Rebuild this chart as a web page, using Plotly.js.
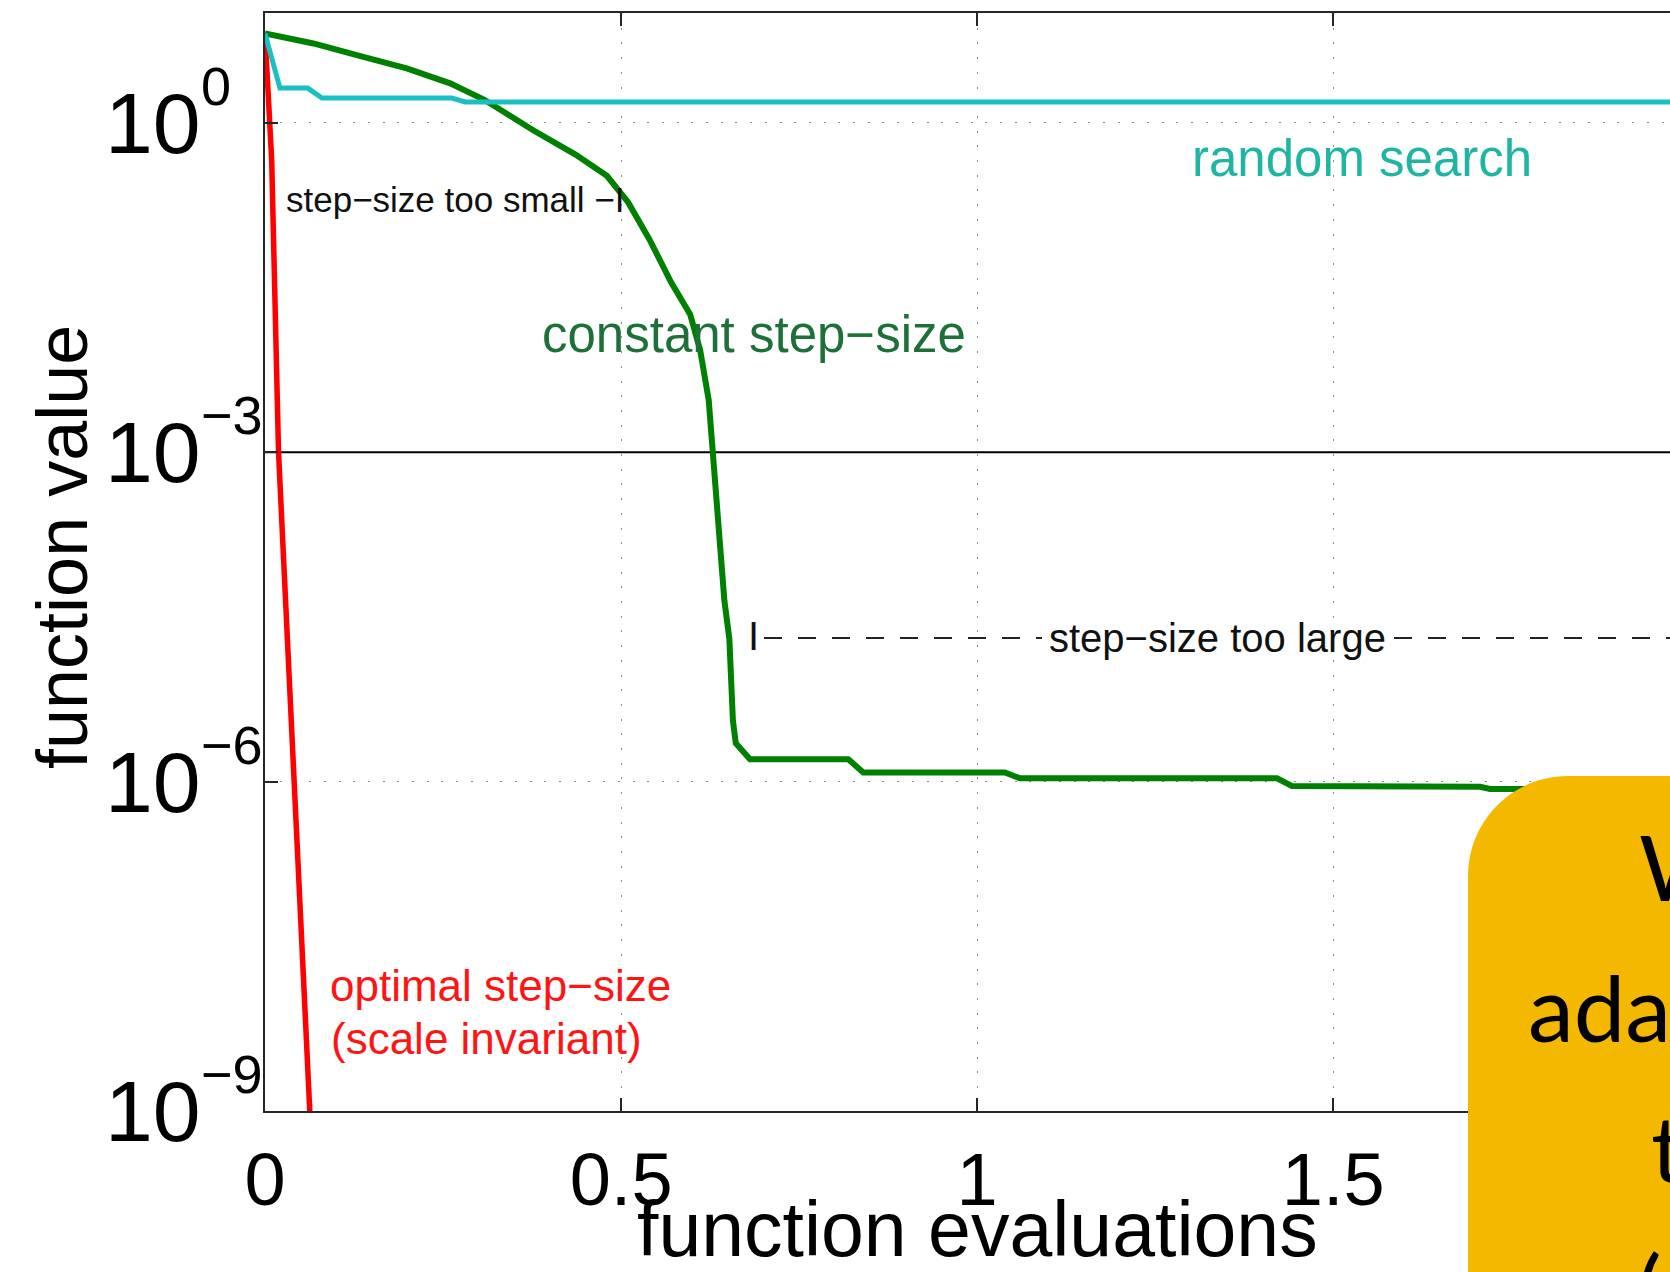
<!DOCTYPE html>
<html>
<head>
<meta charset="utf-8">
<script src="https://cdn.plot.ly/plotly-3.0.1.min.js"></script>
<style>
  html, body { margin: 0; padding: 0; background: #ffffff; overflow: hidden; }
  #chart { width: 1670px; height: 1272px; }
</style>
</head>
<body>
<div id="chart"></div>
<script>
// ---------------- data ----------------
const randomX = [0, 0.021, 0.06, 0.08, 0.262, 0.281, 2.0];
const randomY = [6.5, 2.07, 2.07, 1.68, 1.68, 1.55, 1.55];

const constantX = [0, 0.068, 0.138, 0.199, 0.26, 0.308, 0.376, 0.436, 0.48, 0.51, 0.54, 0.57, 0.597,
                   0.611, 0.623, 0.629, 0.639, 0.645, 0.652, 0.657, 0.661, 0.681, 0.819, 0.840, 1.039,
                   1.060, 1.421, 1.442, 1.706, 1.72, 2.0];
const constantY = [6.52, 5.28, 3.99, 3.13, 2.29, 1.62, 0.86, 0.514, 0.329, 0.188, 0.0863, 0.0355, 0.0180,
                   0.00851, 0.00299, 1.01e-3, 1.82e-4, 4.47e-5, 2.0e-5, 3.6e-6, 2.24e-6, 1.60e-6, 1.60e-6,
                   1.21e-6, 1.21e-6, 1.07e-6, 1.07e-6, 9.1e-7, 8.97e-7, 8.57e-7, 8.5e-7];

const optimalX = [0, 0.0094, 0.019, 0.048, 0.063, 0.068];
const optimalY = [6.5, 0.457, 1e-3, 8.4e-8, 1e-9, 2e-10];

const targetX = [0, 2.0];
const targetY = [1e-3, 1e-3];

const xTickVals = [0, 0.5, 1, 1.5, 2];
const xTickText = ["0", "0.5", "1", "1.5", "2"];
const yTickVals = [1, 1e-3, 1e-6, 1e-9];
const yTickBase = "10";
const yTickExp = ["0", "\u22123", "\u22126", "\u22129"];

const labelRandom = "random search";
const labelConstant = "constant step\u2212size";
const labelSmall = "step\u2212size too small \u2212I";
const labelLargeBar = "I";
const labelLarge = "step\u2212size too large";
const labelOptimal1 = "optimal step\u2212size";
const labelOptimal2 = "(scale invariant)";
const xTitle = "function evaluations";
const yTitle = "function value";
const calloutLines = ["W", "ada", "t", "("];

// ---------------- layout helpers ----------------
const FONT = "Liberation Sans, Arial, Helvetica, sans-serif";
const BOXFONT = "Lato, Open Sans, sans-serif";
const PLOT = { left: 265, top: 13, right: 1670, bottom: 1111 };
const W = 1670, H = 1272;
function px2x(px) { return (px - PLOT.left) / (PLOT.right - PLOT.left); }
function py2y(py) { return (PLOT.bottom - py) / (PLOT.bottom - PLOT.top); }
function ann(text, px, py, size, color, xanchor, family) {
  return {
    text: text, xref: "paper", yref: "paper", x: px2x(px), y: py2y(py),
    xanchor: xanchor || "left", yanchor: "middle", showarrow: false,
    font: { family: family || FONT, size: size, color: color }
  };
}

// y tick labels in MATLAB style: "10" bases aligned, exponent raised to the right
const yTickAnns = [];
yTickVals.forEach((v, i) => {
  yTickAnns.push({ text: yTickBase, xref: "paper", yref: "y", x: px2x(202), y: Math.log10(v),
    xanchor: "right", yanchor: "middle", showarrow: false, borderpad: 0,
    font: { family: FONT, size: 86, color: "#000" } });
  yTickAnns.push({ text: yTickExp[i], xref: "paper", yref: "y", x: px2x(200), y: Math.log10(v),
    xanchor: "left", yanchor: "middle", yshift: 37, showarrow: false, borderpad: 0,
    font: { family: FONT, size: 54, color: "#000" } });
});

const traces = [
  { x: targetX, y: targetY, mode: "lines", line: { color: "#000000", width: 2 }, hoverinfo: "skip" },
  { x: optimalX, y: optimalY, mode: "lines", line: { color: "#ff0000", width: 5.5 }, hoverinfo: "skip" },
  { x: constantX, y: constantY, mode: "lines", line: { color: "#008000", width: 6 }, hoverinfo: "skip" },
  { x: randomX, y: randomY, mode: "lines", line: { color: "#19bfc2", width: 5 }, hoverinfo: "skip" }
];

// callout box (rounded top-left corner), pixel geometry
const bx = 1468, by = 776, br = 100, k = 0.5523;
function P(px, py) { return px2x(px) + "," + py2y(py); }
const boxPath = "M " + P(bx, 1320) + " L " + P(bx, by + br) +
  " C " + P(bx, by + br * (1 - k)) + " " + P(bx + br * (1 - k), by) + " " + P(bx + br, by) +
  " L " + P(1720, by) + " L " + P(1720, 1320) + " Z";

const layout = {
  width: W, height: H,
  margin: { l: PLOT.left, r: W - PLOT.right, t: PLOT.top, b: H - PLOT.bottom, pad: 0 },
  paper_bgcolor: "#ffffff", plot_bgcolor: "#ffffff",
  showlegend: false,
  font: { family: FONT, color: "#000000" },
  xaxis: {
    type: "linear", range: [0, (PLOT.right - PLOT.left) / 712.2], autorange: false,
    tickvals: xTickVals, ticktext: xTickText,
    ticks: "inside", ticklen: 13, tickwidth: 2, tickcolor: "#262626",
    showline: true, linecolor: "#262626", linewidth: 2, mirror: "ticks",
    showgrid: true, gridcolor: "#8a8a8a", gridwidth: 1, griddash: "2px,12.7px",
    zeroline: false, tickfont: { family: FONT, size: 74, color: "#000" },
    ticklabelstandoff: 3
  },
  yaxis: {
    type: "log", range: [-9, 1], autorange: false,
    tickvals: yTickVals, showticklabels: false,
    ticks: "inside", ticklen: 13, tickwidth: 2, tickcolor: "#262626",
    showline: true, linecolor: "#262626", linewidth: 2, mirror: false,
    showgrid: true, gridcolor: "#8a8a8a", gridwidth: 1, griddash: "2px,12.7px",
    zeroline: false
  },
  shapes: [
    { type: "line", xref: "paper", yref: "paper", x0: px2x(764), x1: px2x(1042), y0: py2y(638), y1: py2y(638),
      line: { color: "#222222", width: 2, dash: "18px,16px" } },
    { type: "line", xref: "paper", yref: "paper", x0: px2x(1394), x1: px2x(1700), y0: py2y(638), y1: py2y(638),
      line: { color: "#222222", width: 2, dash: "18px,16px" } },
    { type: "path", xref: "paper", yref: "paper", path: boxPath, layer: "above",
      fillcolor: "#f5b800", line: { width: 0 } }
  ],
  annotations: yTickAnns.concat([
    ann(labelRandom, 1362, 158, 51, "#1fb5a3", "center"),
    ann(labelSmall, 284, 199.6, 35, "#111111"),
    ann(labelConstant, 540, 335, 51, "#1c7038"),
    ann(labelLargeBar, 746, 636, 40, "#111111"),
    ann(labelLarge, 1047, 638, 40, "#111111"),
    ann(labelOptimal1, 328, 985, 44, "#ff1414"),
    ann(labelOptimal2, 329, 1038, 44, "#ff1414"),
    { text: xTitle, xref: "x", yref: "paper", x: 1, y: py2y(1229), xanchor: "center", yanchor: "middle",
      showarrow: false, borderpad: 0, font: { family: FONT, size: 77, color: "#000" } },
    { text: yTitle, xref: "paper", yref: "paper", x: px2x(62), y: py2y(547), xanchor: "center", yanchor: "middle",
      textangle: -90, showarrow: false, font: { family: FONT, size: 72, color: "#000" } },
    ann(calloutLines[0], 1637, 866, 92, "#000000", "left", BOXFONT),
    ann(calloutLines[1], 1526, 1006, 92, "#000000", "left", BOXFONT),
    ann(calloutLines[2], 1649, 1146, 92, "#000000", "left", BOXFONT),
    ann(calloutLines[3], 1635, 1286, 92, "#000000", "left", BOXFONT)
  ])
};

Plotly.newPlot("chart", traces, layout, { displayModeBar: false, staticPlot: true, responsive: false });
</script>
</body>
</html>
